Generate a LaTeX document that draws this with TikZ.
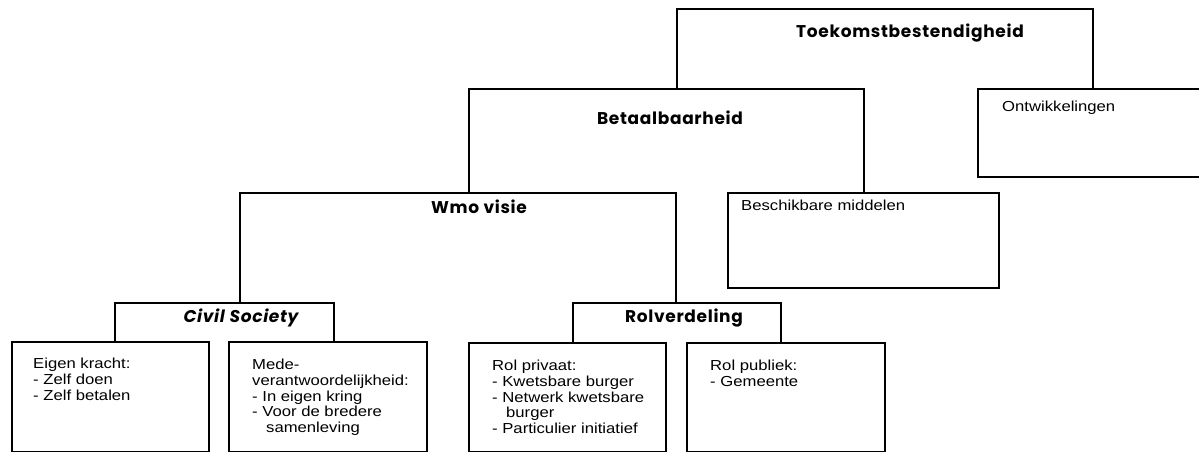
\documentclass[tikz,border=0pt]{standalone}
\usepackage{fontspec}
\setmainfont{Liberation Sans}
\newfontfamily\bodyfont{Liberation Sans}[FakeStretch=1.15]
\newfontfamily\headfont{Poppins}[LetterSpace=4]
\tikzset{
  frame/.style={line width=1.5pt, line join=miter},
  area/.style={rectangle, inner sep=0pt, outer sep=0pt, anchor=north west, draw=none},
  leaf/.style={area, draw, line width=1.5pt, fill=white},
  head/.style={font=\headfont\bfseries\fontsize{17}{20}\selectfont, inner sep=0pt, anchor=center},
  headit/.style={font=\headfont\bfseries\itshape\fontsize{17}{20}\selectfont, inner sep=0pt, anchor=center},
  body/.style={font=\bodyfont\fontsize{14.5}{15.7}\selectfont, align=left, inner sep=0pt, anchor=north west}
}
\begin{document}
\begin{tikzpicture}[x=1pt,y=-1pt]
\useasboundingbox (0,0) rectangle (1199,452);
\clip (0,0) rectangle (1199,452);
% parent frames (open at the bottom)
\node[area, minimum width=416pt, minimum height=80pt]  (T) at (677,9)   {};
\node[area, minimum width=395pt, minimum height=104pt] (B) at (469,89)  {};
\node[area, minimum width=436pt, minimum height=110pt] (W) at (240,193) {};
\node[area, minimum width=219pt, minimum height=39pt]  (C) at (115,303) {};
\node[area, minimum width=208pt, minimum height=40pt]  (R) at (573,303) {};
\foreach \p in {T,B,W,C,R}
  \draw[frame] (\p.south west) |- (\p.north east) -- (\p.south east);
% leaf boxes
\node[leaf, minimum width=240pt, minimum height=88pt]  (O)  at (978,89)  {};
\node[leaf, minimum width=271pt, minimum height=95pt]  (BM) at (728,193) {};
\node[leaf, minimum width=197pt, minimum height=110pt] (EK) at (12,342)  {};
\node[leaf, minimum width=198pt, minimum height=110pt] (MV) at (229,342) {};
\node[leaf, minimum width=197pt, minimum height=109pt] (RP) at (469,343) {};
\node[leaf, minimum width=198pt, minimum height=109pt] (RU) at (687,343) {};
% headings
\node[head]   (Tt) at (910,33)  {Toekomstbestendigheid};
\node[head]   (Bt) at (670,118) {Betaalbaarheid};
\node[head]   (Wt) at (479,207) {Wmo visie};
\node[headit] (Ct) at (241,318) {Civil Society};
\node[head]   (Rt) at (684,318) {Rolverdeling};
% body texts
\node[body] (Ot)  at (1002,101) {Ontwikkelingen};
\node[body] (BMt) at (741,200)  {Beschikbare middelen};
\node[body] (EKt) at (33,358)   {Eigen kracht:\\- Zelf doen\\- Zelf betalen};
\node[body] (MVt) at (252,359)  {Mede-\\verantwoordelijkheid:\\- In eigen kring\\- Voor de bredere\\\hspace*{14pt}samenleving};
\node[body] (RPt) at (492,360)  {Rol privaat:\\- Kwetsbare burger\\- Netwerk kwetsbare\\\hspace*{14pt}burger\\- Particulier initiatief};
\node[body] (RUt) at (710,360)  {Rol publiek:\\- Gemeente};
\end{tikzpicture}
\end{document}
